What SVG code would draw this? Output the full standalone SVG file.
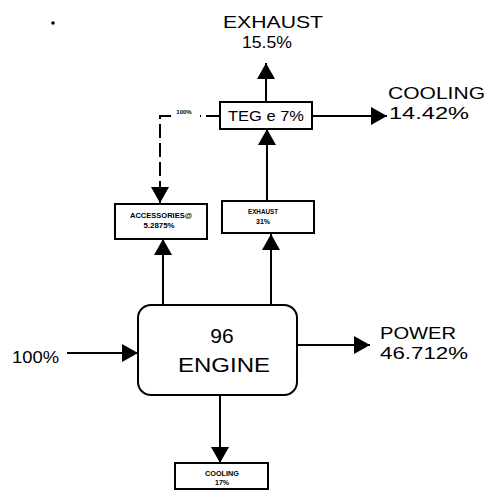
<svg xmlns="http://www.w3.org/2000/svg" width="489" height="495" viewBox="0 0 489 495">
<style>
.box{fill:#fff;stroke:#000;stroke-width:2}
.ln{fill:none;stroke:#000;stroke-width:2}
.dash{fill:none;stroke:#000;stroke-width:2;stroke-dasharray:14 5}
.t{font-family:"Liberation Sans",Arial,sans-serif;fill:#000}
.big{font-size:17px}
.eng{font-size:21px}
.mid{font-size:15px}
.sm{font-size:7px;font-weight:bold}
</style>
<defs>
<marker id="ah" markerUnits="userSpaceOnUse" markerWidth="17" markerHeight="18" refX="16" refY="9" orient="auto">
<path d="M0,0 L16,9 L0,18 z" fill="#000"/>
</marker>
</defs>
<rect width="489" height="495" fill="#fff"/>
<circle cx="53" cy="23" r="1.8" fill="#000"/>
<g id="connectors">
<line class="ln" x1="67" y1="353" x2="138" y2="353" marker-end="url(#ah)"/>
<line class="ln" x1="298" y1="345" x2="370" y2="345" marker-end="url(#ah)"/>
<line class="ln" x1="220" y1="395" x2="220" y2="463" marker-end="url(#ah)"/>
<line class="ln" x1="163" y1="305" x2="163" y2="239" marker-end="url(#ah)"/>
<line class="ln" x1="271" y1="305" x2="271" y2="234" marker-end="url(#ah)"/>
<line class="ln" x1="267" y1="202" x2="267" y2="129" marker-end="url(#ah)"/>
<line class="ln" x1="266" y1="102" x2="266" y2="63" marker-end="url(#ah)"/>
<line class="ln" x1="312" y1="116" x2="387" y2="116" marker-end="url(#ah)"/>
<path class="dash" d="M220,116 H200"/>
<path class="dash" d="M171,116 H160 V203" marker-end="url(#ah)"/>
<text class="t" x="184" y="114" font-size="6" font-weight="bold" text-anchor="middle">100%</text>
</g>
<g id="engine">
<rect class="box" x="138" y="305" width="159" height="90" rx="13"/>
<text class="t eng" x="222" y="343" text-anchor="middle">96</text>
<text class="t eng" x="224" y="372" text-anchor="middle" textLength="92" lengthAdjust="spacingAndGlyphs">ENGINE</text>
</g>
<g id="accessories">
<rect class="box" x="115" y="204" width="92" height="35"/>
<text class="t sm" x="161" y="218" text-anchor="middle" textLength="62" lengthAdjust="spacingAndGlyphs">ACCESSORIES@</text>
<text class="t sm" x="159" y="228" text-anchor="middle" textLength="31" lengthAdjust="spacingAndGlyphs">5.2875%</text>
</g>
<g id="exhaust-box">
<rect class="box" x="222" y="201" width="92" height="32"/>
<text class="t sm" x="263" y="214" text-anchor="middle" textLength="30" lengthAdjust="spacingAndGlyphs">EXHAUST</text>
<text class="t sm" x="263" y="224" text-anchor="middle">31%</text>
</g>
<g id="teg">
<rect class="box" x="220" y="102" width="92" height="27"/>
<text class="t mid" x="266" y="121" text-anchor="middle" textLength="76" lengthAdjust="spacingAndGlyphs">TEG e 7%</text>
</g>
<g id="cooling-box">
<rect class="box" x="175" y="463" width="93" height="26"/>
<text class="t sm" x="222" y="476" text-anchor="middle" textLength="34" lengthAdjust="spacingAndGlyphs">COOLING</text>
<text class="t sm" x="222" y="485" text-anchor="middle">17%</text>
</g>
<g id="exhaust-out">
<text class="t big" x="273" y="28" text-anchor="middle" textLength="100" lengthAdjust="spacingAndGlyphs">EXHAUST</text>
<text class="t big" x="267" y="48" text-anchor="middle" textLength="50" lengthAdjust="spacingAndGlyphs">15.5%</text>
</g>
<g id="cooling-out">
<text class="t big" x="388" y="99" textLength="97" lengthAdjust="spacingAndGlyphs">COOLING</text>
<text class="t big" x="389" y="119" textLength="80" lengthAdjust="spacingAndGlyphs">14.42%</text>
</g>
<g id="power">
<text class="t big" x="380" y="339" textLength="76" lengthAdjust="spacingAndGlyphs">POWER</text>
<text class="t big" x="380" y="359" textLength="88" lengthAdjust="spacingAndGlyphs">46.712%</text>
</g>
<g id="input">
<text class="t big" x="12" y="363" textLength="47" lengthAdjust="spacingAndGlyphs">100%</text>
</g>
</svg>
